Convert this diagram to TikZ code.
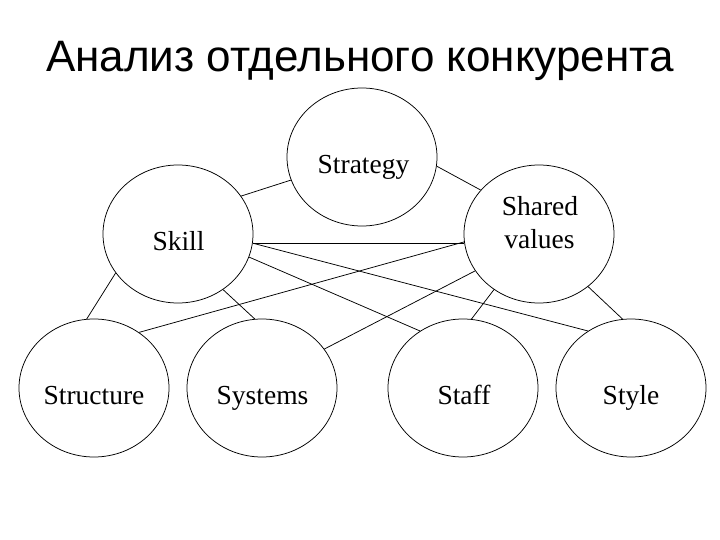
\documentclass[tikz,border=0pt]{standalone}
\usepackage{fontspec}
\setmainfont{Liberation Serif}
\newfontfamily\titlefont{Liberation Sans}
\usetikzlibrary{shapes.geometric}
\tikzset{
  ell/.style={draw, ellipse, line width=0.75pt, minimum width=150pt, minimum height=138pt, inner sep=0pt},
  lbl/.style={anchor=base, inner sep=0pt, font=\fontsize{27.5}{30}\selectfont},
  conn/.style={line width=0.75pt}
}
\begin{document}
\begin{tikzpicture}[x=1pt,y=-1pt]
\fill[white] (0,0) rectangle (720,540);
\useasboundingbox (0,0) rectangle (720,540);
\node[anchor=base, inner sep=0pt, font=\titlefont\fontsize{44}{50}\selectfont] (title) at (360,71.5) {Анализ отдельного конкурента};

\node[ell] (strategy) at (362,157) {};
\node[ell] (skill) at (178,234) {};
\node[ell] (shared) at (539,234) {};
\node[ell] (structure) at (94,388) {};
\node[ell] (systems) at (262,388) {};
\node[ell] (staff) at (463,388) {};
\node[ell] (style) at (631,388) {};

\node[lbl] (tstrategy) at (363.5,173.3) {Strategy};
\node[lbl] (tskill) at (178.5,250.7) {Skill};
\node[lbl] (tshared) at (540,215) {Shared};
\node[lbl] (tvalues) at (539.5,248.3) {values};
\node[lbl] (tstructure) at (94,404) {Structure};
\node[lbl] (tsystems) at (262.5,404) {Systems};
\node[lbl] (tstaff) at (464,404) {Staff};
\node[lbl] (tstyle) at (631,404) {Style};

\draw[conn] (skill.31) -- (strategy.198);
\draw[conn] (strategy.-7) -- (shared.143);
\draw[conn] (skill.-7) -- (shared.187);
\draw[conn] (skill.-7) -- (style.127);
\draw[conn] (skill.-18) -- (staff.127);
\draw[conn] (skill.-51) -- (systems.96);
\draw[conn] (skill.212) -- (structure.96);
\draw[conn] (structure.51) -- (shared.186);
\draw[conn] (systems.32) -- (shared.210);
\draw[conn] (shared.231) -- (staff.83);
\draw[conn] (shared.-47) -- (style.97);
\end{tikzpicture}
\end{document}
